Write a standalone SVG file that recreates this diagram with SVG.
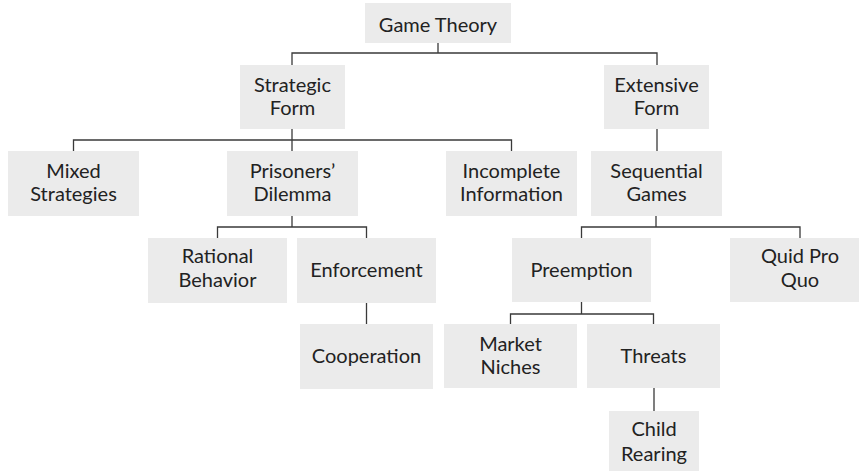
<svg xmlns="http://www.w3.org/2000/svg" width="859" height="471" viewBox="0 0 859 471">
  <style>
    .box { fill: #ebebeb; }
    .lbl { font-family: Lato, "Noto Sans", "Liberation Sans", sans-serif; font-size: 20px; fill: #222; text-anchor: middle; }
    .wire { fill: none; stroke: #3a3a3a; stroke-width: 1.3; }
  </style>
  <rect width="859" height="471" fill="#fff"/>

  <!-- connectors -->
  <g id="connectors" class="wire">
    <path d="M438,43 V53 M292,65 V53 H657 V65"/>
    <path d="M292,129 V140 M73.5,151 V140 H511.5 V151 M292,140 V151"/>
    <path d="M657,129 V151"/>
    <path d="M292,216 V227 M217.5,238 V227 H366.5 V238"/>
    <path d="M366.5,303 V324"/>
    <path d="M656,216 V227 M581.5,238 V227 H800 V238"/>
    <path d="M581.5,302 V314 M510.5,324 V314 H653.5 V324"/>
    <path d="M654,388 V411"/>
  </g>

  <!-- nodes -->
  <g id="game-theory">
    <rect class="box" x="365" y="3" width="146" height="40"/>
    <text class="lbl" x="438" y="32">Game Theory</text>
  </g>
  <g id="strategic-form">
    <rect class="box" x="240" y="65" width="105" height="64"/>
    <text class="lbl" x="292.5" y="92">Strategic</text>
    <text class="lbl" x="292.5" y="115">Form</text>
  </g>
  <g id="extensive-form">
    <rect class="box" x="604" y="65" width="105" height="64"/>
    <text class="lbl" x="656.5" y="92">Extensive</text>
    <text class="lbl" x="656.5" y="115">Form</text>
  </g>
  <g id="mixed-strategies">
    <rect class="box" x="8" y="151" width="131" height="65"/>
    <text class="lbl" x="73.5" y="178">Mixed</text>
    <text class="lbl" x="73.5" y="201">Strategies</text>
  </g>
  <g id="prisoners-dilemma">
    <rect class="box" x="227" y="151" width="131" height="65"/>
    <text class="lbl" x="292.5" y="178">Prisoners’</text>
    <text class="lbl" x="292.5" y="201">Dilemma</text>
  </g>
  <g id="incomplete-information">
    <rect class="box" x="446" y="151" width="131" height="65"/>
    <text class="lbl" x="511.5" y="178">Incomplete</text>
    <text class="lbl" x="511.5" y="201">Information</text>
  </g>
  <g id="sequential-games">
    <rect class="box" x="591" y="151" width="131" height="65"/>
    <text class="lbl" x="656.5" y="178">Sequential</text>
    <text class="lbl" x="656.5" y="201">Games</text>
  </g>
  <g id="rational-behavior">
    <rect class="box" x="148" y="238" width="139" height="65"/>
    <text class="lbl" x="217.5" y="263">Rational</text>
    <text class="lbl" x="217.5" y="287">Behavior</text>
  </g>
  <g id="enforcement">
    <rect class="box" x="297" y="238" width="139" height="65"/>
    <text class="lbl" x="366.5" y="277">Enforcement</text>
  </g>
  <g id="preemption">
    <rect class="box" x="512" y="238" width="139" height="64"/>
    <text class="lbl" x="581.5" y="277">Preemption</text>
  </g>
  <g id="quid-pro-quo">
    <rect class="box" x="730" y="238" width="140" height="64"/>
    <text class="lbl" x="800" y="263">Quid Pro</text>
    <text class="lbl" x="800" y="287">Quo</text>
  </g>
  <g id="cooperation">
    <rect class="box" x="300" y="324" width="133" height="65"/>
    <text class="lbl" x="366.5" y="363">Cooperation</text>
  </g>
  <g id="market-niches">
    <rect class="box" x="444" y="324" width="133" height="64"/>
    <text class="lbl" x="510.5" y="351">Market</text>
    <text class="lbl" x="510.5" y="374">Niches</text>
  </g>
  <g id="threats">
    <rect class="box" x="587" y="324" width="133" height="64"/>
    <text class="lbl" x="653.5" y="363">Threats</text>
  </g>
  <g id="child-rearing">
    <rect class="box" x="609" y="411" width="90" height="62"/>
    <text class="lbl" x="654" y="436">Child</text>
    <text class="lbl" x="654" y="461">Rearing</text>
  </g>
</svg>
